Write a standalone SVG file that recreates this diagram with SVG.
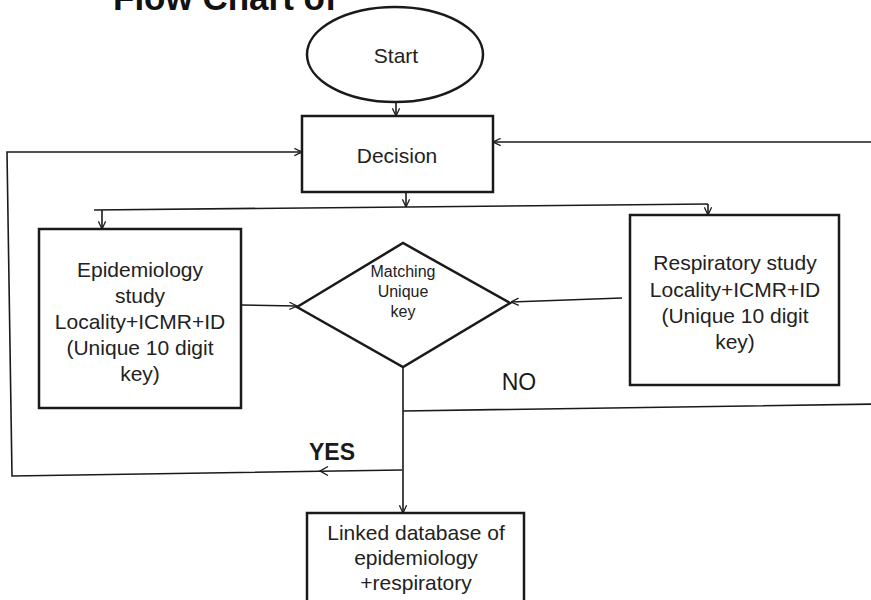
<svg xmlns="http://www.w3.org/2000/svg" width="871" height="600" viewBox="0 0 871 600">
  <defs>
    <style>
      .shape { fill: #ffffff; stroke: #1a1a1a; stroke-width: 2.5; }
      .conn { fill: none; stroke: #1a1a1a; stroke-width: 1.6; }
      .head { fill: none; stroke: #1a1a1a; stroke-width: 1.4; }
      .txt { font-family: "Liberation Sans", Arial, sans-serif; font-size: 21px; fill: #222222; text-anchor: middle; }
      .small { font-size: 16px; }
      .title { font-family: "Liberation Sans", Arial, sans-serif; font-size: 35px; font-weight: bold; fill: #111111; }
      .lbl { font-family: "Liberation Sans", Arial, sans-serif; fill: #1a1a1a; text-anchor: middle; }
    </style>
    <marker id="arr" viewBox="0 0 10 10" refX="9.5" refY="5" markerWidth="9" markerHeight="9" markerUnits="userSpaceOnUse" orient="auto">
      <path d="M1,1 L9.5,5 L1,9" fill="none" stroke="#1a1a1a" stroke-width="1.4"/>
    </marker>
  </defs>
  <rect width="871" height="600" fill="#ffffff"/>

  <text class="title" x="113" y="10">Flow Chart of</text>

  <g id="connectors">
    <line class="conn" x1="396" y1="102" x2="396" y2="116" marker-end="url(#arr)"/>
    <path class="conn" d="M402,470 L12,476 L7,152 L302,152" marker-end="url(#arr)"/>
    <path class="head" d="M328,466.5 L320,471 L328,475.5"/>
    <path class="conn" d="M403,411 L878,404 L878,142 L493,142" marker-end="url(#arr)"/>
    <line class="conn" x1="406" y1="193" x2="406" y2="207" marker-end="url(#arr)"/>
    <line class="conn" x1="94" y1="210" x2="708" y2="204"/>
    <line class="conn" x1="102" y1="210" x2="102" y2="229" marker-end="url(#arr)"/>
    <line class="conn" x1="708" y1="204" x2="708" y2="215" marker-end="url(#arr)"/>
    <line class="conn" x1="241" y1="305" x2="297" y2="306" marker-end="url(#arr)"/>
    <line class="conn" x1="622" y1="298" x2="511" y2="302" marker-end="url(#arr)"/>
    <line class="conn" x1="403" y1="367" x2="403" y2="513" marker-end="url(#arr)"/>
    <text class="lbl" x="519" y="390" font-size="23">NO</text>
    <text class="lbl" x="332" y="460" font-size="23" font-weight="bold">YES</text>
  </g>

  <g id="start">
    <ellipse class="shape" cx="395" cy="54.5" rx="88" ry="47.5" stroke-width="2.2"/>
    <text class="txt" x="396" y="63">Start</text>
  </g>

  <g id="decision">
    <rect class="shape" x="302" y="116" width="191" height="76"/>
    <text class="txt" x="397" y="163">Decision</text>
  </g>

  <g id="epidemiology">
    <rect class="shape" x="39" y="229" width="202" height="179"/>
    <text class="txt" x="140" y="277">Epidemiology</text>
    <text class="txt" x="140" y="303">study</text>
    <text class="txt" x="140" y="329">Locality+ICMR+ID</text>
    <text class="txt" x="140" y="355">(Unique 10 digit</text>
    <text class="txt" x="140" y="381">key)</text>
  </g>

  <g id="matching">
    <polygon class="shape" points="297,307 403,243 510,303 403,367"/>
    <text class="txt small" x="403" y="277">Matching</text>
    <text class="txt small" x="403" y="297">Unique</text>
    <text class="txt small" x="403" y="317">key</text>
  </g>

  <g id="respiratory">
    <rect class="shape" x="630" y="215" width="209" height="170"/>
    <text class="txt" x="735" y="270">Respiratory study</text>
    <text class="txt" x="735" y="297">Locality+ICMR+ID</text>
    <text class="txt" x="735" y="323">(Unique 10 digit</text>
    <text class="txt" x="735" y="349">key)</text>
  </g>

  <g id="linked">
    <rect class="shape" x="307" y="513" width="217" height="100"/>
    <text class="txt" x="416" y="540">Linked database of</text>
    <text class="txt" x="416" y="565">epidemiology</text>
    <text class="txt" x="416" y="590">+respiratory</text>
  </g>
</svg>
